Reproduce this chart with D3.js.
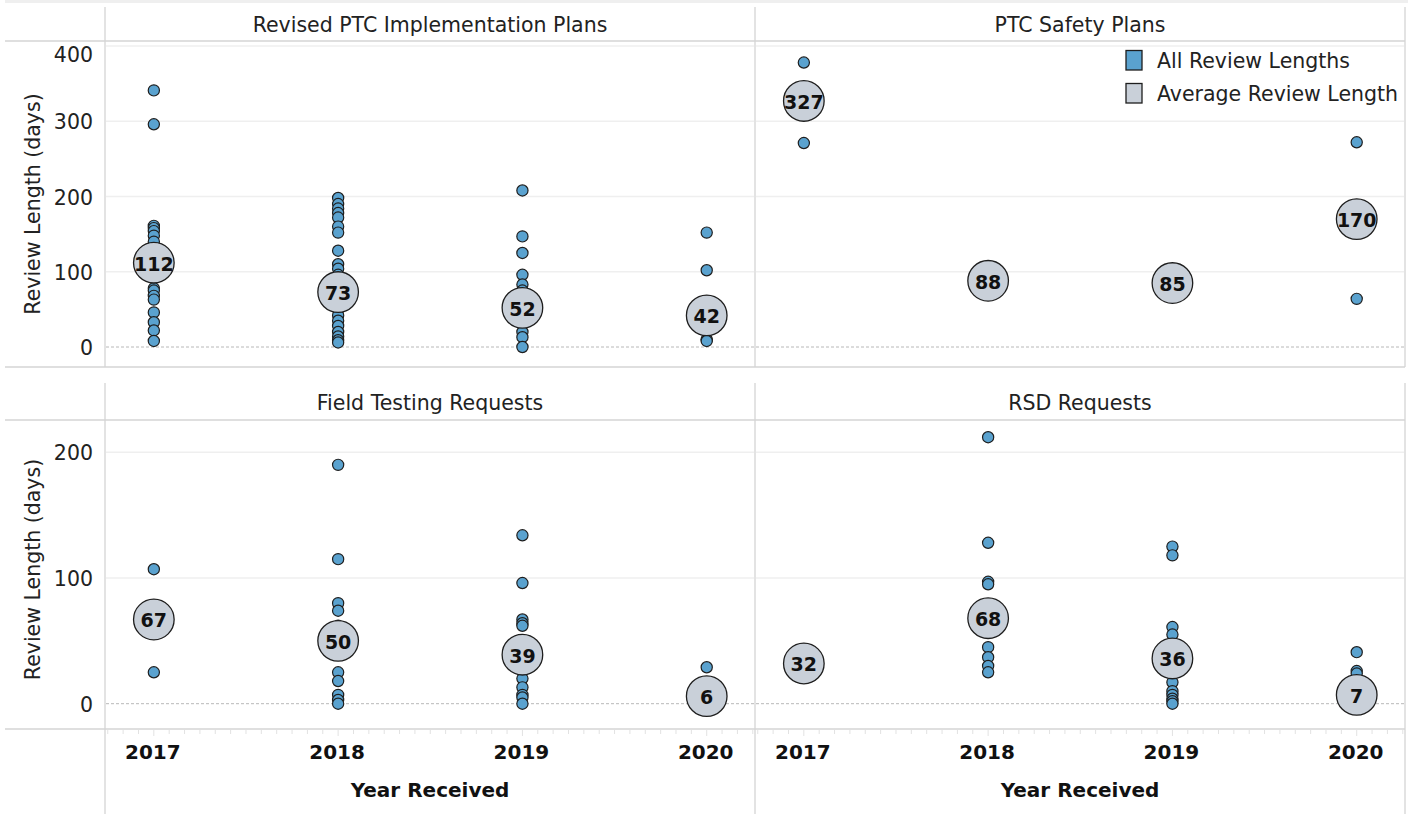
<!DOCTYPE html>
<html>
<head>
<meta charset="utf-8">
<script src="https://cdn.jsdelivr.net/npm/d3@7"></script>
<style>
  html, body { margin: 0; padding: 0; background: #fff; }
  svg { display: block; font-family: "DejaVu Sans", Verdana, sans-serif; }
</style>
</head>
<body>
<svg id="chart" width="1413" height="814"></svg>
<script>
// ---------------- DATA ----------------
const years = [2017, 2018, 2019, 2020];
const panelTitles = ["Revised PTC Implementation Plans", "PTC Safety Plans", "Field Testing Requests", "RSD Requests"];
const legendLabels = ["All Review Lengths", "Average Review Length"];
const yAxisTitle = "Review Length (days)";
const xAxisTitle = "Year Received";
const yTicksTop = [0, 100, 200, 300, 400];
const yTicksBottom = [0, 100, 200];

// individual review lengths (days), one list per year 2017..2020
const revisedPlansReviews = [
  [341, 296, 161, 158, 154, 148, 140, 130, 120, 100, 95, 78, 75, 68, 63, 46, 33, 22, 8],
  [198, 190, 184, 178, 172, 160, 152, 128, 110, 104, 96, 88, 60, 50, 42, 35, 28, 20, 14, 9, 6],
  [208, 147, 125, 96, 83, 75, 60, 45, 30, 20, 13, 0],
  [152, 102, 35, 25, 10, 8]
];
const safetyPlansReviews = [
  [378, 271],
  [88],
  [85],
  [272, 64]
];
const fieldTestReviews = [
  [107, 25],
  [190, 115, 80, 74, 62, 25, 18, 7, 3, 0],
  [134, 96, 67, 64, 62, 45, 30, 20, 13, 7, 5, 0],
  [29, 2, 1, 0]
];
const rsdReviews = [
  [32],
  [212, 128, 97, 95, 60, 45, 37, 30, 25],
  [125, 118, 61, 55, 45, 17, 10, 7, 4, 2, 0],
  [41, 26, 24, 2, 0]
];
// average review length per year
const revisedPlansAvg = [112, 73, 52, 42];
const safetyPlansAvg = [327, 88, 85, 170];
const fieldTestAvg = [67, 50, 39, 6];
const rsdAvg = [32, 68, 36, 7];

// ---------------- STYLE ----------------
const BLUE = "#5aa2cf";
const GRAY = "#c9d0d9";
const STROKE = "#1e1e1e";
const LINE = "#d4d4d4";
const GRID = "#efefef";
const TXT = "#222";
const FS = 20.5;

const svg = d3.select("#chart");

// top light band
svg.append("rect").attr("x", 5).attr("y", 0).attr("width", 1403).attr("height", 3).attr("fill", "#efefef");

const colX = [105, 755];
const paneW = 650;
const rows = [
  { headTop: 7, headLine: 41, paneBottom: 367, y0: 347, yTop: 46, dmax: 400, ticks: yTicksTop, axis: false },
  { headTop: 383, headLine: 420, paneBottom: 729, y0: 703.7, yTop: 452.3, dmax: 200, ticks: yTicksBottom, axis: true }
];
const panels = [
  { title: panelTitles[0], reviews: revisedPlansReviews, avg: revisedPlansAvg, row: 0, col: 0 },
  { title: panelTitles[1], reviews: safetyPlansReviews, avg: safetyPlansAvg, row: 0, col: 1 },
  { title: panelTitles[2], reviews: fieldTestReviews, avg: fieldTestAvg, row: 1, col: 0 },
  { title: panelTitles[3], reviews: rsdReviews, avg: rsdAvg, row: 1, col: 1 }
];

rows.forEach((r, ri) => {
  r.y = d3.scaleLinear().domain([0, r.dmax]).range([r.y0, r.yTop]);
  const g = svg.append("g");
  // gridlines
  [0, 1].forEach(c => {
    r.ticks.filter(t => t !== 0).forEach(t => {
      g.append("line").attr("x1", colX[c] + 1).attr("x2", colX[c] + paneW - 1)
        .attr("y1", r.y(t)).attr("y2", r.y(t)).attr("stroke", GRID).attr("stroke-width", 1.5);
    });
    g.append("line").attr("x1", colX[c] + 1).attr("x2", colX[c] + paneW - 1)
      .attr("y1", r.y(0)).attr("y2", r.y(0)).attr("stroke", "#b8b8b8")
      .attr("stroke-width", 1).attr("stroke-dasharray", "3,2");
  });
  // frame lines
  const bottomV = ri === 0 ? r.paneBottom : 814;
  [105, 755, 1405].forEach(x => {
    g.append("line").attr("x1", x).attr("x2", x).attr("y1", r.headTop).attr("y2", bottomV)
      .attr("stroke", LINE).attr("stroke-width", 1.3);
  });
  g.append("line").attr("x1", 5).attr("x2", 1405).attr("y1", r.headLine).attr("y2", r.headLine)
    .attr("stroke", LINE).attr("stroke-width", 1.3);
  g.append("line").attr("x1", 5).attr("x2", 1405).attr("y1", r.paneBottom).attr("y2", r.paneBottom)
    .attr("stroke", LINE).attr("stroke-width", 1.3);
  // y tick labels
  r.ticks.forEach(t => {
    let yy = r.y(t) + 1;
    if (yy < r.headLine + 14) yy = r.headLine + 14;
    g.append("text").attr("x", 93).attr("y", yy).attr("text-anchor", "end")
      .attr("dominant-baseline", "central").attr("font-size", FS).attr("fill", TXT).text(t);
  });
  // y axis title
  const cy = (r.headLine + r.paneBottom) / 2 + (ri === 1 ? -5 : 0);
  g.append("text").attr("transform", `translate(33,${cy}) rotate(-90)`)
    .attr("text-anchor", "middle").attr("dominant-baseline", "central")
    .attr("font-size", FS).attr("fill", TXT).text(yAxisTitle);
});

panels.forEach(p => {
  const r = rows[p.row];
  const x0 = colX[p.col];
  const x = d3.scaleLinear().domain([2016.735, 2020.262]).range([x0, x0 + paneW]);
  const g = svg.append("g");
  // header title
  g.append("text").attr("x", x0 + paneW / 2).attr("y", (r.headTop + r.headLine) / 2 + 1)
    .attr("text-anchor", "middle").attr("dominant-baseline", "central")
    .attr("font-size", FS).attr("fill", TXT).text(p.title);
  // all reviews dots
  const pts = [];
  p.reviews.forEach((arr, i) => arr.forEach(v => pts.push({ year: years[i], v })));
  g.selectAll("circle.dot").data(pts).join("circle").attr("class", "dot")
    .attr("cx", d => x(d.year)).attr("cy", d => r.y(d.v)).attr("r", 5.6)
    .attr("fill", BLUE).attr("stroke", STROKE).attr("stroke-width", 1.2);
  // average bubbles
  const av = p.avg.map((v, i) => ({ year: years[i], v }));
  g.selectAll("circle.avg").data(av).join("circle").attr("class", "avg")
    .attr("cx", d => x(d.year)).attr("cy", d => r.y(d.v)).attr("r", 20.3)
    .attr("fill", GRAY).attr("stroke", STROKE).attr("stroke-width", 1.3);
  g.selectAll("text.avgl").data(av).join("text").attr("class", "avgl")
    .attr("x", d => x(d.year)).attr("y", d => r.y(d.v) + 1)
    .attr("text-anchor", "middle").attr("dominant-baseline", "central")
    .attr("font-size", 19).attr("font-weight", "bold").attr("fill", "#111").text(d => d.v);
  // x axis
  if (r.axis) {
    const months = d3.range(0, 43).map(m => 2016 + 9 / 12 + m / 12).filter(v => v > 2016.74 && v < 2020.26);
    g.selectAll("line.mt").data(months).join("line").attr("class", "mt")
      .attr("x1", d => x(d)).attr("x2", d => x(d))
      .attr("y1", r.paneBottom + 1).attr("y2", d => r.paneBottom + (Math.abs(d - Math.round(d)) < 1e-6 ? 7 : 5))
      .attr("stroke", "#e2e2e2").attr("stroke-width", 1);
    g.selectAll("text.yr").data(years).join("text").attr("class", "yr")
      .attr("x", d => x(d) - 1).attr("y", 752).attr("text-anchor", "middle").attr("dominant-baseline", "central")
      .attr("font-size", 20).attr("font-weight", "bold").attr("fill", "#111").text(d => d);
    g.append("text").attr("x", x0 + paneW / 2).attr("y", 790).attr("text-anchor", "middle")
      .attr("dominant-baseline", "central").attr("font-size", 20).attr("font-weight", "bold")
      .attr("fill", "#111").text(xAxisTitle);
  }
});

// legend
const lg = svg.append("g");
[BLUE, GRAY].forEach((c, i) => {
  lg.append("rect").attr("x", 1126).attr("y", 50.5 + i * 33).attr("width", 16).attr("height", 19.5)
    .attr("fill", c).attr("stroke", STROKE).attr("stroke-width", 1.3);
  lg.append("text").attr("x", 1157).attr("y", 61 + i * 33).attr("dominant-baseline", "central")
    .attr("font-size", FS).attr("fill", TXT).text(legendLabels[i]);
});
</script>
</body>
</html>
